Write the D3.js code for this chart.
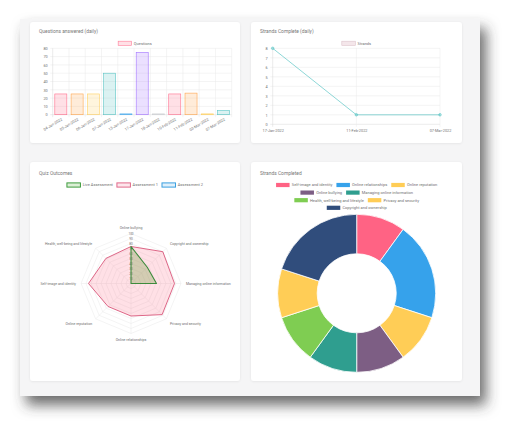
<!DOCTYPE html>
<html><head><meta charset="utf-8">
<script src="https://cdn.jsdelivr.net/npm/d3@7"></script>
<style>html,body{margin:0;padding:0;background:#fff;overflow:hidden}</style>
</head><body><svg id="c" width="520" height="435"></svg>
<script>
// ---------- data ----------
const barLabels = ["04-Jan-2022","05-Jan-2022","06-Jan-2022","07-Jan-2022","13-Jan-2022","17-Jan-2022","18-Jan-2022","10-Feb-2022","11-Feb-2022","03-Mar-2022","07-Mar-2022"];
const barValues = [25,25,25,50,1,75,1,25,26,1,5];
const barTicks = [0,10,20,30,40,50,60,70,80];

const lineLabels = ["17-Jan-2022","11-Feb-2022","07-Mar-2022"];
const lineValues = [8,1,1];
const lineTicks = [0,1,2,3,4,5,6,7,8];

const radarAxes = ["Online bullying","Copyright and ownership","Managing online information","Privacy and security","Online relationships","Online reputation","Self-image and identity","Health, well-being and lifestyle"];
const liveAssessment = [74,46,51,0,0,0,0,0];
const assessment1 = [74,90,87,88,65,65,85,71];
const assessment2 = [0,0,0,0,0,0,0,0];
const radarTicks = [10,20,30,40,50,60,70,80,90,100];

const donutLabels = ["Self-image and identity","Online relationships","Online reputation","Online bullying","Managing online information","Health, well-being and lifestyle","Privacy and security","Copyright and ownership"];
const donutValues = [1,2,1,1,1,1,1,2];

// ---------- styles ----------
const palette = [[255,99,132],[255,159,64],[255,205,86],[75,192,192],[54,162,235],[153,102,255],[201,203,207]];
const donutColors = ["#ff6384","#36a2eb","#ffcd56","#7d5e84","#2f9e8f","#7fcd52","#ffcd56","#304d7c"];
const FONT = 'Roboto, "Liberation Sans", sans-serif';
const TXT = "#6f6f6f";
const GRID = "#e9e9e9";

const svg = d3.select('#c').style('font-family', FONT);
const defs = svg.append('defs');
const sh = defs.append('filter').attr('id','shadow').attr('x','-10%').attr('y','-10%').attr('width','125%').attr('height','130%');
sh.append('feDropShadow').attr('dx',6).attr('dy',9).attr('stdDeviation',7).attr('flood-color','#3a3a3a').attr('flood-opacity',0.75);
const cs = defs.append('filter').attr('id','cshadow').attr('x','-5%').attr('y','-5%').attr('width','110%').attr('height','110%');
cs.append('feDropShadow').attr('dx',0).attr('dy',0.5).attr('stdDeviation',0.8).attr('flood-color','#000').attr('flood-opacity',0.08);

svg.append('rect').attr('x',20).attr('y',19).attr('width',460).attr('height',377).attr('fill','#f5f5f6').attr('filter','url(#shadow)');

const cards = [[30,22,210,121],[251,22,211,121],[30,162,210,219],[251,162,211,219]];
svg.selectAll('rect.card').data(cards).join('rect').attr('class','card')
  .attr('x',d=>d[0]).attr('y',d=>d[1]).attr('width',d=>d[2]).attr('height',d=>d[3])
  .attr('rx',3).attr('fill','#fff').attr('filter','url(#cshadow)');

const titles = [["Questions answered (daily)",39,33],["Strands Complete (daily)",260,33],["Quiz Outcomes",39,175],["Strands Completed",260,175]];
svg.selectAll('text.title').data(titles).join('text').attr('class','title')
  .attr('x',d=>d[1]).attr('y',d=>d[2]).text(d=>d[0])
  .attr('font-size',4.9).attr('fill','#777');

const rgba = (c,a)=>`rgba(${c[0]},${c[1]},${c[2]},${a})`;

// legend helper
function legend(items, cx, y0, maxW, rowH, fs){
  const g = svg.append('g');
  const boxW = 13.5, boxH = 4.2, gap = 2.2, pad = 4;
  const widths = items.map(it=>{
    const t = g.append('text').attr('font-size',fs).text(it.label);
    const w = t.node().getComputedTextLength(); t.remove(); return boxW+gap+w;
  });
  const rows = []; let cur = [], cw = 0;
  items.forEach((it,i)=>{
    const add = (cur.length?pad:0)+widths[i];
    if(cur.length && cw+add>maxW){ rows.push({items:cur,w:cw}); cur=[]; cw=0; }
    cw += (cur.length?pad:0)+widths[i]; cur.push(i);
  });
  if(cur.length) rows.push({items:cur,w:cw});
  rows.forEach((r,ri)=>{
    let x = cx - r.w/2; const y = y0 + ri*rowH;
    r.items.forEach(i=>{
      const it = items[i];
      g.append('rect').attr('x',x).attr('y',y-boxH/2).attr('width',boxW).attr('height',boxH)
        .attr('fill',it.fill).attr('stroke',it.stroke||'none').attr('stroke-width',it.sw||0);
      g.append('text').attr('x',x+boxW+gap).attr('y',y).attr('dy','0.35em').attr('font-size',fs)
        .attr('fill',TXT).text(it.label);
      x += widths[i]+pad;
    });
  });
}

// ---------- bar chart ----------
{
  const x0=52.7, x1=231.7;
  const bx = d3.scaleBand().domain(barLabels).range([x0,x1]);
  const by = d3.scaleLinear().domain([0,80]).range([114.7,48.3]);
  const g = svg.append('g');
  // horizontal grid
  g.selectAll('line.h').data(barTicks).join('line')
    .attr('x1',x0-2.5).attr('x2',x1).attr('y1',d=>by(d)).attr('y2',d=>by(d))
    .attr('stroke',d=>d===0?'#d8d8d8':GRID).attr('stroke-width',0.5);
  // vertical grid at band edges
  const edges = barLabels.map(d=>bx(d)).concat([x1]);
  g.selectAll('line.v').data(edges).join('line')
    .attr('x1',d=>d).attr('x2',d=>d).attr('y1',by(80)).attr('y2',by(0)+2.5)
    .attr('stroke',(d,i)=>i===0?'#d8d8d8':GRID).attr('stroke-width',0.5);
  // y labels
  const ya = d3.axisLeft(by).tickValues(barTicks).tickSize(0).tickPadding(5);
  const yg = g.append('g').attr('transform',`translate(${x0},0)`).call(ya);
  yg.select('.domain').remove();
  yg.selectAll('text').attr('font-size',3.8).attr('fill',TXT).attr('font-family',FONT);
  // bars
  const bw = bx.bandwidth()*0.74;
  g.selectAll('rect.bar').data(barValues).join('rect')
    .attr('x',(d,i)=>bx(barLabels[i])+bx.bandwidth()/2-bw/2)
    .attr('y',d=>by(d)).attr('width',bw).attr('height',d=>by(0)-by(d))
    .attr('fill',(d,i)=>rgba(palette[i%7],0.2)).attr('stroke',(d,i)=>rgba(palette[i%7],0.9)).attr('stroke-width',0.6);
  // x labels
  const xa = d3.axisBottom(bx).tickSize(0);
  const xg = g.append('g').attr('transform',`translate(0,${by(0)})`).call(xa);
  xg.select('.domain').remove();
  xg.selectAll('text').attr('font-size',3.8).attr('fill',TXT).attr('font-family',FONT)
    .attr('x',0).attr('y',0).attr('dy','0.35em').style('text-anchor','end')
    .attr('transform','translate(1,4.2) rotate(-31)');
  legend([{label:"Questions",fill:rgba(palette[0],0.2),stroke:rgba(palette[0],0.8),sw:0.6}],135,43.3,190,7,4);
}

// ---------- line chart ----------
{
  const x0=272.7, x1=440;
  const lx = d3.scalePoint().domain(lineLabels).range([x0,x1]);
  const ly = d3.scaleLinear().domain([0,8]).range([124.3,48.3]);
  const g = svg.append('g');
  g.selectAll('line.h').data(lineTicks).join('line')
    .attr('x1',x0-2.5).attr('x2',x1).attr('y1',d=>ly(d)).attr('y2',d=>ly(d))
    .attr('stroke',d=>d===0?'#d8d8d8':GRID).attr('stroke-width',0.5);
  g.selectAll('line.v').data(lineLabels).join('line')
    .attr('x1',d=>lx(d)).attr('x2',d=>lx(d)).attr('y1',ly(8)).attr('y2',ly(0)+2.5)
    .attr('stroke',(d,i)=>i===0?'#d8d8d8':GRID).attr('stroke-width',0.5);
  const ya = d3.axisLeft(ly).tickValues(lineTicks).tickSize(0).tickPadding(5);
  const yg = g.append('g').attr('transform',`translate(${x0},0)`).call(ya);
  yg.select('.domain').remove();
  yg.selectAll('text').attr('font-size',3.8).attr('fill',TXT).attr('font-family',FONT);
  const xa = d3.axisBottom(lx).tickSize(0).tickPadding(5);
  const xg = g.append('g').attr('transform',`translate(0,${ly(0)})`).call(xa);
  xg.select('.domain').remove();
  xg.selectAll('text').attr('font-size',3.8).attr('fill',TXT).attr('font-family',FONT);
  const teal = palette[3];
  g.append('path').datum(lineValues)
    .attr('d',d3.line().x((d,i)=>lx(lineLabels[i])).y(d=>ly(d)))
    .attr('fill','none').attr('stroke',rgba(teal,0.9)).attr('stroke-width',0.7);
  g.selectAll('circle').data(lineValues).join('circle')
    .attr('cx',(d,i)=>lx(lineLabels[i])).attr('cy',d=>ly(d)).attr('r',1.3)
    .attr('fill',rgba(teal,0.4)).attr('stroke',rgba(teal,1)).attr('stroke-width',0.5);
  legend([{label:"Strands",fill:"#f4e6ea",stroke:"#dcc3cb",sw:0.6}],356.5,43.3,190,7,4);
}

// ---------- radar ----------
{
  const cx=131, cy=283.5, R=50, n=radarAxes.length;
  const r = d3.scaleLinear().domain([0,100]).range([0,R]);
  const ang = i => i*2*Math.PI/n;
  const pt = (i,v) => [cx + r(v)*Math.sin(ang(i)), cy - r(v)*Math.cos(ang(i))];
  const g = svg.append('g');
  // rings
  radarTicks.forEach(t=>{
    g.append('polygon').attr('points', radarAxes.map((a,i)=>pt(i,t).join(',')).join(' '))
      .attr('fill','none').attr('stroke',GRID).attr('stroke-width',0.5);
  });
  radarAxes.forEach((a,i)=>{
    const p = pt(i,100);
    g.append('line').attr('x1',cx).attr('y1',cy).attr('x2',p[0]).attr('y2',p[1])
      .attr('stroke',GRID).attr('stroke-width',0.5);
  });
  // tick labels
  radarTicks.forEach(t=>{
    const y = cy - r(t);
    g.append('rect').attr('x',cx-2.6).attr('y',y-1.5).attr('width',5.2).attr('height',3)
      .attr('fill','rgba(255,255,255,0.75)');
    g.append('text').attr('x',cx).attr('y',y).attr('dy','0.35em').attr('text-anchor','middle')
      .attr('font-size',3.1).attr('fill',TXT).text(t);
  });
  // point labels
  radarAxes.forEach((a,i)=>{
    const p = pt(i,110);
    const s = Math.sin(ang(i)), c = Math.cos(ang(i));
    const anchor = Math.abs(s)<0.1?'middle':(s>0?'start':'end');
    const dy = c>0.3?'0em':(c<-0.3?'0.75em':'0.35em');
    g.append('text').attr('x',p[0]).attr('y',p[1]).attr('dy',dy).attr('text-anchor',anchor)
      .attr('font-size',3.5).attr('fill',TXT).text(a);
  });
  const poly = vals => radarAxes.map((a,i)=>pt(i,vals[i]).join(',')).join(' ');
  // datasets (draw later index first)
  g.append('polygon').attr('points',poly(assessment2))
    .attr('fill','rgba(54,162,235,0.2)').attr('stroke','rgb(54,162,235)').attr('stroke-width',0.8);
  g.append('polygon').attr('points',poly(assessment1))
    .attr('fill','rgba(255,99,132,0.2)').attr('stroke','#d9577a').attr('stroke-width',0.9).attr('stroke-linejoin','round');
  g.append('polygon').attr('points',poly(liveAssessment))
    .attr('fill','rgba(110,160,60,0.3)').attr('stroke','#3d8b3d').attr('stroke-width',1.1).attr('stroke-linejoin','round');
  legend([
    {label:"Live Assessment",fill:"#dcefd6",stroke:"#3d9a3d",sw:1},
    {label:"Assessment 1",fill:"#fde6ec",stroke:"#e0698b",sw:1},
    {label:"Assessment 2",fill:"#dff0fb",stroke:"#3a9fe0",sw:1}
  ],135,185,200,7.5,4);
}

// ---------- donut ----------
{
  const cx=356.7, cy=293.3;
  const pie = d3.pie().sort(null).value(d=>d)(donutValues);
  const arc = d3.arc().innerRadius(39.5).outerRadius(79);
  svg.append('g').attr('transform',`translate(${cx},${cy})`)
    .selectAll('path').data(pie).join('path')
    .attr('d',arc).attr('fill',(d,i)=>donutColors[i]).attr('stroke','#fff').attr('stroke-width',0.8);
  legend(donutLabels.map((l,i)=>({label:l,fill:donutColors[i]})),356.7,185,178,7.6,4);
}
</script></body></html>
